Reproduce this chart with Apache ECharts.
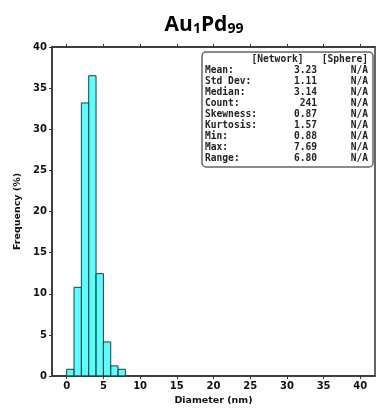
<!DOCTYPE html>
<html>
<head>
<meta charset="utf-8">
<script src="https://cdn.jsdelivr.net/npm/echarts@6/dist/echarts.min.js"></script>
<style>
html,body{margin:0;padding:0;background:#fff;}
#chart{width:376px;height:411px;}
</style>
</head>
<body>
<div id="chart"></div>
<script>
// Histogram bins (nm) and frequency (%)
var binStarts = [0, 1, 2, 3, 4, 5, 6, 7];
var binWidth = 1;
var frequencies = [0.83, 10.79, 33.20, 36.51, 12.45, 4.15, 1.24, 0.83];
var xTickValues = [0, 5, 10, 15, 20, 25, 30, 35, 40];
var yTickValues = [0, 5, 10, 15, 20, 25, 30, 35, 40];

// Statistics box
var statLabels = ['Mean:', 'Std Dev:', 'Median:', 'Count:', 'Skewness:', 'Kurtosis:', 'Min:', 'Max:', 'Range:'];
var networkValues = ['3.23', '1.11', '3.14', '241', '0.87', '1.57', '0.88', '7.69', '6.80'];
var sphereValues = ['N/A', 'N/A', 'N/A', 'N/A', 'N/A', 'N/A', 'N/A', 'N/A', 'N/A'];

var histData = binStarts.map(function (s, i) { return [s, s + binWidth, frequencies[i]]; });

var axisColor = '#333';
var tickFont = { fontFamily: 'DejaVu Sans', fontWeight: 'bold', fontSize: 10, color: '#111' };

var chart = echarts.init(document.getElementById('chart'), null, { renderer: 'canvas' });

var mono = 'bold 9.6px "DejaVu Sans Mono"';
var statGraphics = [{
  type: 'rect',
  shape: { x: 202, y: 52, width: 171, height: 115, r: 4 },
  style: { fill: '#fff', stroke: '#666', lineWidth: 1.5 },
  z: 100
}, {
  type: 'text', x: 303.5, y: 59,
  style: { text: '[Network]', font: mono, fill: '#222', textAlign: 'right', textVerticalAlign: 'middle' }, z: 101
}, {
  type: 'text', x: 368, y: 59,
  style: { text: '[Sphere]', font: mono, fill: '#222', textAlign: 'right', textVerticalAlign: 'middle' }, z: 101
}];
statLabels.forEach(function (lab, i) {
  var y = 70 + i * 11.1;
  statGraphics.push({ type: 'text', x: 205, y: y, style: { text: lab, font: mono, fill: '#222', textAlign: 'left', textVerticalAlign: 'middle' }, z: 101 });
  statGraphics.push({ type: 'text', x: 317, y: y, style: { text: networkValues[i], font: mono, fill: '#222', textAlign: 'right', textVerticalAlign: 'middle' }, z: 101 });
  statGraphics.push({ type: 'text', x: 368, y: y, style: { text: sphereValues[i], font: mono, fill: '#222', textAlign: 'right', textVerticalAlign: 'middle' }, z: 101 });
});

var option = {
  backgroundColor: '#fff',
  animation: false,
  title: {
    text: '{n|Au}{s|1}{n|Pd}{s|99}',
    left: 199,
    top: 5,
    textAlign: 'center',
    textStyle: {
      rich: {
        n: { fontFamily: 'Open Sans', fontWeight: 'bold', fontSize: 21, color: '#000', verticalAlign: 'bottom', lineHeight: 26 },
        s: { fontFamily: 'Open Sans', fontWeight: 'bold', fontSize: 14, color: '#000', verticalAlign: 'bottom', lineHeight: 22 }
      }
    }
  },
  grid: { left: 52, right: 1, top: 47, bottom: 34, show: true, borderColor: axisColor, borderWidth: 1.5, backgroundColor: 'transparent' },
  xAxis: [{
    type: 'value', min: -2, max: 42, position: 'bottom',
    name: 'Diameter (nm)', nameLocation: 'middle', nameGap: 18,
    nameTextStyle: { fontFamily: 'DejaVu Sans', fontWeight: 'bold', fontSize: 9.5, color: '#111' },
    axisLine: { show: true, onZero: false, lineStyle: { color: axisColor, width: 1.5 } },
    axisTick: { show: true, inside: false, length: 3, customValues: xTickValues, lineStyle: { color: axisColor, width: 1 } },
    axisLabel: Object.assign({ customValues: xTickValues, margin: 5 }, tickFont),
    splitLine: { show: false }
  }, {
    type: 'value', min: -2, max: 42, position: 'top',
    axisLine: { show: true, onZero: false, lineStyle: { color: axisColor, width: 1.5 } },
    axisTick: { show: true, inside: false, length: 3, customValues: xTickValues, lineStyle: { color: axisColor, width: 1 } },
    axisLabel: { show: false },
    splitLine: { show: false }
  }],
  yAxis: {
    type: 'value', min: 0, max: 40, interval: 5, position: 'left',
    name: 'Frequency (%)', nameLocation: 'middle', nameGap: 28,
    nameTextStyle: { fontFamily: 'DejaVu Sans', fontWeight: 'bold', fontSize: 9.5, color: '#111' },
    axisLine: { show: true, onZero: false, lineStyle: { color: axisColor, width: 1.5 } },
    axisTick: { show: true, inside: false, length: 3, lineStyle: { color: axisColor, width: 1 } },
    axisLabel: Object.assign({ margin: 5 }, tickFont),
    splitLine: { show: false }
  },
  graphic: statGraphics,
  series: [{
    type: 'custom',
    xAxisIndex: 0,
    encode: { x: [0, 1], y: 2 },
    data: histData,
    renderItem: function (params, api) {
      var p0 = api.coord([api.value(0), 0]);
      var p1 = api.coord([api.value(1), api.value(2)]);
      return {
        type: 'rect',
        shape: { x: p0[0], y: p1[1], width: p1[0] - p0[0], height: p0[1] - p1[1] },
        style: { fill: 'rgba(0,255,255,0.65)', stroke: '#2a3a3a', lineWidth: 1 }
      };
    }
  }]
};
chart.setOption(option);
</script>
</body>
</html>
